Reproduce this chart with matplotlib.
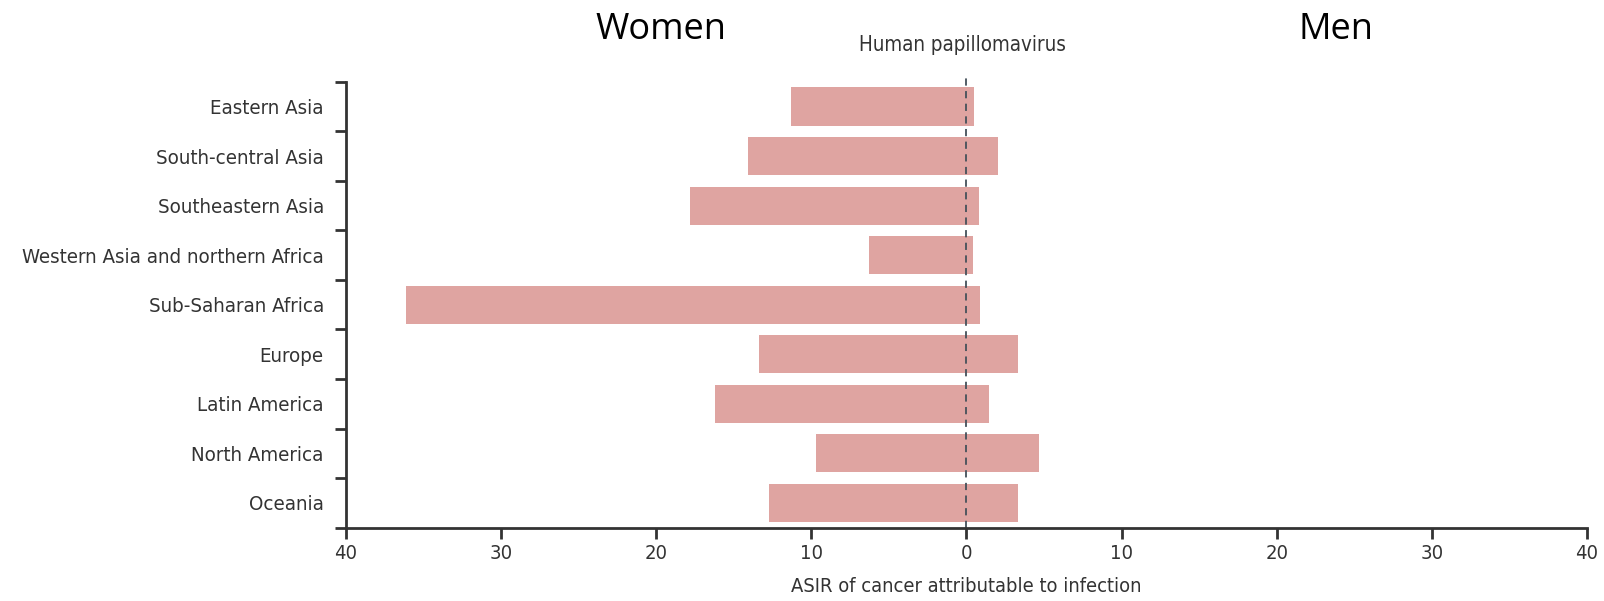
import numpy as np
import matplotlib.pyplot as plt

regions = ["Eastern Asia", "South-central Asia", "Southeastern Asia",
           "Western Asia and northern Africa", "Sub-Saharan Africa", "Europe",
           "Latin America", "North America", "Oceania"]
women = [11.3, 14.1, 17.8, 6.3, 36.1, 13.4, 16.2, 9.7, 12.7]
men = [0.5, 2.0, 0.8, 0.4, 0.9, 3.3, 1.45, 4.7, 3.3]
xticks = [-40, -30, -20, -10, 0, 10, 20, 30, 40]

plt.rcParams['font.family'] = ['DejaVu Sans']
plt.rcParams['font.stretch'] = 'condensed'

bar_col = "#dfa4a1"
ink = "#333333"

fig = plt.figure(figsize=(16.04, 6.01), dpi=100)
ax = fig.add_axes([0.2157, 0.122, 0.7737, 0.742])

y = np.arange(len(regions))
ax.barh(y, -np.array(women), height=0.77, color=bar_col)
ax.barh(y, men, height=0.77, color=bar_col)
ax.axvline(0, ymin=0, ymax=1.01, color="#44505a", lw=1.3, ls=(0, (4, 3)), clip_on=False)

ax.set_xlim(-40, 40)
ax.set_ylim(len(regions) - 0.5, -0.5)
ax.set_xticks(xticks)
ax.set_xticklabels([str(abs(v)) for v in xticks], fontsize=14.5, color=ink)
ax.set_yticks(y)
ax.set_yticklabels(regions, fontsize=14.7, color=ink)
ax.set_yticks(np.arange(len(regions) + 1) - 0.5, minor=True)
ax.tick_params(axis='y', which='major', length=0, pad=16)
ax.tick_params(axis='y', which='minor', length=8, width=2, color=ink)
ax.tick_params(axis='x', length=8, width=2, color=ink, pad=4)

for s in ["top", "right"]:
    ax.spines[s].set_visible(False)
for s in ["left", "bottom"]:
    ax.spines[s].set_linewidth(2)
    ax.spines[s].set_color(ink)

ax.set_xlabel("ASIR of cancer attributable to infection", fontsize=14.4, color=ink, labelpad=10)

fig.text(0.412, 0.95, "Women", fontsize=26, family=["Open Sans", "DejaVu Sans"],
         stretch="normal", ha="center", va="center")
fig.text(0.833, 0.95, "Men", fontsize=26, family=["Open Sans", "DejaVu Sans"],
         stretch="normal", ha="center", va="center")
fig.text(0.6, 0.925, "Human papillomavirus", fontsize=14.8, color=ink, ha="center", va="center")

fig.savefig("out.png", dpi=100)
